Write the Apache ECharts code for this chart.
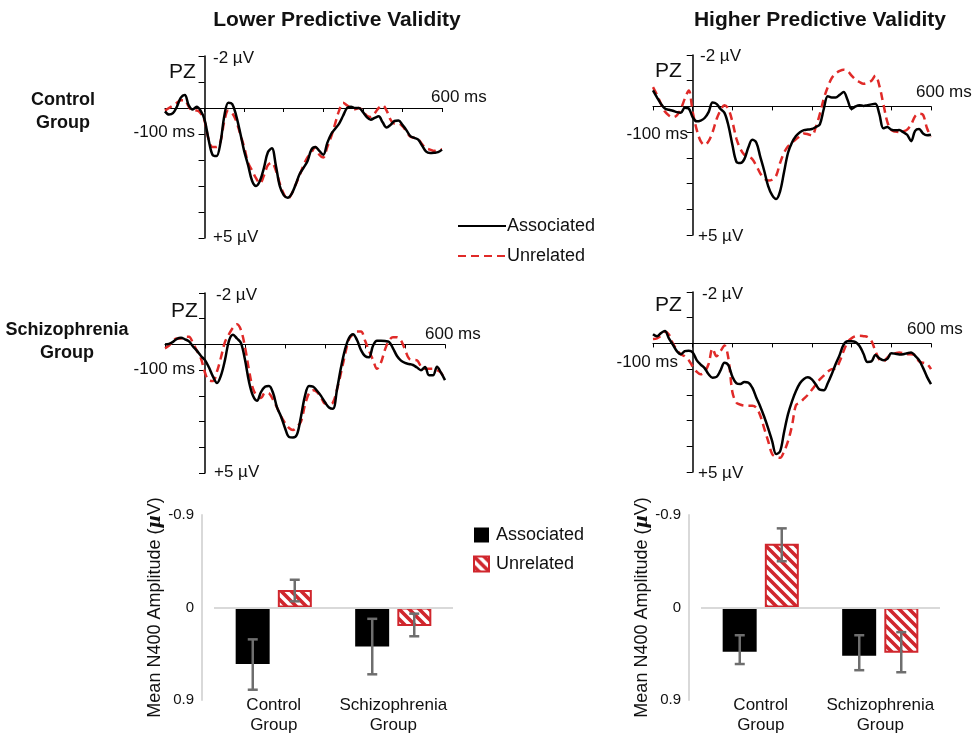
<!DOCTYPE html>
<html>
<head>
<meta charset="utf-8">
<script src="https://cdn.jsdelivr.net/npm/echarts@6/dist/echarts.min.js"></script>
<style>
  html, body { margin: 0; padding: 0; background: #fff; }
  #main { width: 972px; height: 735px; }
</style>
</head>
<body>
<div id="main"></div>
<script>
// time axis of the ERP plots (ms)
var times = [-100, -90, -80, -70, -60, -50, -40, -30, -20, -10,
  0, 10, 20, 30, 40, 50, 60, 70, 80, 90,
  100, 110, 120, 130, 140, 150, 160, 170, 180, 190,
  200, 210, 220, 230, 240, 250, 260, 270, 280, 290,
  300, 310, 320, 330, 340, 350, 360, 370, 380, 390,
  400, 410, 420, 430, 440, 450, 460, 470, 480, 490,
  500, 510, 520, 530, 540, 550, 560, 570, 580, 590,
  600];

// ERP amplitudes (uV, positive down)
var ctrlLowAssoc = [0.13, 0.25, 0.2, -0.05, -0.4, -0.5, -0.1, 0.06, -0.05, 0.1,
  0.45, 1.2, 1.8, 1.85, 1.35, 0.3, -0.2, -0.15, 0.3, 0.95,
  1.65, 2.2, 2.8, 3.0, 2.8, 2.3, 1.7, 1.55, 2.2, 3.0,
  3.35, 3.45, 3.3, 2.95, 2.55, 2.3, 2.05, 1.6, 1.5, 1.65,
  1.8, 1.35, 1.0, 0.8, 0.6, 0.3, 0.0, -0.05, 0.0, 0.0,
  0.15, 0.35, 0.45, 0.38, 0.32, 0.55, 0.75, 0.65, 0.5, 0.48,
  0.65, 0.85, 1.08, 1.15, 1.22, 1.45, 1.68, 1.73, 1.72, 1.7,
  1.6];
var ctrlLowUnrel = [0.1, 0.0, -0.1, -0.2, -0.3, -0.3, -0.05, 0.1, 0.1, 0.2,
  0.5, 1.2, 1.5, 1.5, 1.3, 0.5, 0.1, 0.2, 0.5, 1.0,
  1.5, 2.1, 2.4, 2.7, 2.9, 2.6, 2.2, 2.1, 2.4, 2.9,
  3.3, 3.5, 3.3, 2.95, 2.6, 2.2, 1.9, 1.7, 1.5, 1.8,
  1.9, 1.5, 1.1, 0.6, 0.1, -0.2, -0.1, 0.0, 0.05, 0.0,
  0.1, 0.3, 0.35, 0.2, 0.0, -0.1, 0.1, 0.45, 0.6, 0.6,
  0.7, 0.9, 1.1, 1.15, 1.2, 1.4, 1.55, 1.6, 1.65, 1.6,
  1.6];
var ctrlHighAssoc = [-0.62, -0.35, -0.1, 0.08, 0.13, 0.17, 0.22, 0.25, 0.05, 0.08,
  0.42, 0.58, 0.55, 0.45, 0.22, -0.15, -0.1, 0.1, 0.25, 0.75,
  1.5, 2.15, 2.2, 2.05, 1.6, 1.3, 1.4, 1.95, 2.5, 3.1,
  3.45, 3.6, 3.3, 2.55, 1.8, 1.4, 1.15, 1.0, 0.92, 0.9,
  0.88, 0.8, 0.7, 0.1, -0.4, -0.35, -0.35, -0.45, -0.56, -0.25,
  0.1, 0.0, -0.05, -0.02, -0.05, -0.08, -0.1, 0.3, 0.85, 0.8,
  0.9, 0.93, 0.92, 1.0, 1.1, 1.35, 0.95, 0.88, 1.05, 1.12,
  1.1];
var ctrlHighUnrel = [-0.75, -0.45, -0.1, 0.2, 0.35, 0.42, 0.35, 0.1, -0.3, -0.62,
  0.22, 0.9, 1.35, 1.5, 1.35, 1.0, 0.5, 0.15, -0.05, 0.1,
  0.6, 1.25, 1.65, 1.88, 1.95, 2.05, 2.3, 2.6, 2.8, 2.88,
  2.85, 2.7, 2.2, 1.8, 1.55, 1.4, 1.28, 1.15, 1.05, 1.08,
  1.13, 0.8, 0.3, -0.3, -0.75, -1.1, -1.28, -1.38, -1.43, -1.38,
  -1.2, -1.05, -0.95, -0.88, -0.92, -1.0, -1.2, -0.8, -0.1, 0.6,
  0.92, 0.98, 1.0, 0.97, 0.9, 0.7, 0.38, 0.28, 0.33, 0.85,
  1.19];
var szLowAssoc = [0.0, -0.02, -0.1, -0.22, -0.26, -0.2, -0.12, 0.08, 0.25, 0.45,
  0.61, 0.9, 1.25, 1.5, 1.2, 0.6, -0.15, -0.38, -0.23, -0.05,
  0.6, 1.45, 2.0, 2.19, 1.85, 1.65, 1.62, 1.88, 2.45, 2.8,
  3.25, 3.6, 3.62, 3.5, 2.8, 2.0, 1.62, 1.64, 1.8, 2.0,
  2.25, 2.45, 2.5, 1.75, 0.9, 0.2, -0.25, -0.4, -0.17, 0.22,
  0.45, 0.5, 0.05, -0.14, -0.14, -0.13, -0.1, 0.15, 0.45, 0.63,
  0.72, 0.76, 0.8, 0.9, 1.0, 0.88, 1.2, 1.2, 0.87, 1.1,
  1.39];
var szLowUnrel = [0.15, 0.05, -0.15, -0.23, -0.23, -0.3, -0.3, -0.05, 0.25, 0.55,
  1.1, 1.4, 1.42, 1.05, 0.5, -0.1, -0.4, -0.65, -0.78, -0.55,
  0.1, 1.0, 1.72, 2.0, 2.08, 1.88, 1.9, 2.15, 2.45, 2.8,
  3.05, 3.25, 3.33, 3.2, 3.0, 2.35, 1.9, 1.78, 1.85, 2.05,
  2.3, 2.3, 2.25, 1.75, 1.1, 0.4, -0.2, -0.4, -0.5, -0.5,
  -0.15, 0.25, 0.6, 0.95, 0.7, 0.2, -0.15, -0.28, -0.28, -0.15,
  0.2, 0.55, 0.6, 0.62, 0.85, 0.95, 0.95, 0.95, 1.0, 1.1,
  1.39];
var szHighAssoc = [-0.36, -0.28, -0.4, -0.48, -0.2, 0.05, 0.3, 0.42, 0.3, 0.28,
  0.35, 0.65, 0.82, 0.96, 1.2, 1.33, 1.3, 1.05, 0.75, 0.85,
  1.3, 1.55, 1.58, 1.5, 1.52, 1.72, 2.1, 2.45, 2.85, 3.3,
  3.8, 4.3, 4.2, 3.45, 2.75, 2.25, 1.85, 1.55, 1.38, 1.32,
  1.4, 1.6, 1.8, 1.82, 1.55, 1.2, 0.8, 0.45, 0.05, -0.08,
  -0.08, -0.05, 0.1, 0.4, 0.72, 0.7, 0.45, 0.58, 0.65, 0.6,
  0.38, 0.4, 0.43, 0.42, 0.38, 0.35, 0.48, 0.65, 0.95, 1.3,
  1.58];
var szHighUnrel = [-0.17, -0.2, -0.3, -0.45, -0.35, 0.0, 0.25, 0.42, 0.5, 0.65,
  0.9, 1.1, 1.2, 1.1, 0.8, 0.2, 0.5, 0.3, 0.08, 0.6,
  1.9, 2.3, 2.38, 2.42, 2.42, 2.42, 2.5, 2.8, 3.3, 3.8,
  4.3, 4.42, 4.45, 4.2, 3.8, 3.2, 2.4, 2.3, 2.15, 2.0,
  1.8, 1.6, 1.4, 1.25, 1.1, 1.0, 0.98, 0.7, 0.3, -0.05,
  -0.2, -0.28, -0.3, -0.28, -0.25, -0.1, 0.3, 0.62, 0.7, 0.55,
  0.42, 0.38, 0.35, 0.38, 0.42, 0.42, 0.45, 0.7, 0.75, 0.8,
  1.0];

// mean N400 amplitude bars
var groups = ['Control\nGroup', 'Schizophrenia\nGroup'];
var lowAssoc = [0.55, 0.38];
var lowUnrel = [-0.17, 0.18];
var highAssoc = [0.43, 0.47];
var highUnrel = [-0.62, 0.44];
// error bar ends [low, high]
var lowAssocErr = [[0.31, 0.80], [0.11, 0.65]];
var lowUnrelErr = [[-0.27, -0.06], [0.06, 0.28]];
var highAssocErr = [[0.27, 0.55], [0.27, 0.61]];
var highUnrelErr = [[-0.77, -0.45], [0.24, 0.63]];

var FONT = "'Liberation Sans', Arial, Helvetica, sans-serif";
var RED = '#e02a28';
var BAR_RED = '#d0262d';

function pairs(vals) {
  return times.map(function (t, i) { return [t, vals[i]]; });
}

function stripes() {
  var c = document.createElement('canvas');
  c.width = 10; c.height = 10;
  var g = c.getContext('2d');
  g.fillStyle = '#fff';
  g.fillRect(0, 0, 10, 10);
  g.strokeStyle = BAR_RED;
  g.lineWidth = 3.6;
  g.beginPath();
  [-10, 0, 10].forEach(function (k) {
    g.moveTo(-2, -2 + k);
    g.lineTo(12, 12 + k);
  });
  g.stroke();
  return c;
}
var stripePattern = { image: stripes(), repeat: 'repeat' };

var grids = [
  { left: 165, top: 56, width: 277, height: 182 },
  { left: 653, top: 55, width: 278, height: 180 },
  { left: 165, top: 293, width: 280, height: 180 },
  { left: 653, top: 292, width: 278, height: 180 },
  { left: 214, top: 515, width: 239, height: 190 },
  { left: 701, top: 515, width: 239, height: 190 }
];

var xAxes = [], yAxes = [], series = [];

var erp = [
  [ctrlLowAssoc, ctrlLowUnrel],
  [ctrlHighAssoc, ctrlHighUnrel],
  [szLowAssoc, szLowUnrel],
  [szHighAssoc, szHighUnrel]
];

erp.forEach(function (pair, i) {
  xAxes.push({
    gridIndex: i, type: 'value', min: -100, max: 600, interval: 100,
    axisLine: { onZero: true, lineStyle: { color: '#000', width: 1.2 } },
    axisTick: { show: true, length: 4, lineStyle: { color: '#000', width: 1 } },
    axisLabel: { show: false },
    splitLine: { show: false }
  });
  yAxes.push({
    gridIndex: i, type: 'value', min: -2, max: 5, interval: 1, inverse: true,
    axisLine: { show: true, onZero: true, lineStyle: { color: '#000', width: 1.5 } },
    axisTick: { show: true, length: 6, lineStyle: { color: '#000', width: 1 } },
    axisLabel: { show: false },
    splitLine: { show: false }
  });
  series.push({
    name: 'Unrelated', type: 'line', xAxisIndex: i, yAxisIndex: i,
    data: pairs(pair[1]), symbol: 'none', smooth: 0.35, z: 2,
    lineStyle: { color: RED, width: 2.5, type: [8, 5] },
    itemStyle: { color: RED }
  });
  series.push({
    name: 'Associated', type: 'line', xAxisIndex: i, yAxisIndex: i,
    data: pairs(pair[0]), symbol: 'none', smooth: 0.35, z: 3,
    lineStyle: { color: '#000', width: 2.5 },
    itemStyle: { color: '#000' }
  });
});

function errRender(offset) {
  return function (params, api) {
    var a = api.coord([api.value(0), api.value(1)]);
    var b = api.coord([api.value(0), api.value(2)]);
    var x = a[0] + offset;
    var st = { stroke: '#6e6e6e', lineWidth: 2.5 };
    return {
      type: 'group',
      children: [
        { type: 'line', shape: { x1: x, y1: a[1], x2: x, y2: b[1] }, style: st },
        { type: 'line', shape: { x1: x - 5, y1: a[1], x2: x + 5, y2: a[1] }, style: st },
        { type: 'line', shape: { x1: x - 5, y1: b[1], x2: x + 5, y2: b[1] }, style: st }
      ]
    };
  };
}

var bars = [
  [lowAssoc, lowUnrel, lowAssocErr, lowUnrelErr],
  [highAssoc, highUnrel, highAssocErr, highUnrelErr]
];

bars.forEach(function (b, k) {
  var gi = 4 + k;
  xAxes.push({
    gridIndex: gi, type: 'category', data: groups, position: 'bottom',
    axisLine: { show: false, onZero: false },
    axisTick: { show: false },
    axisLabel: { interval: 0, fontSize: 17, lineHeight: 20, color: '#111', fontFamily: FONT, margin: -5 }
  });
  yAxes.push({
    gridIndex: gi, type: 'value', min: -0.9, max: 0.9, interval: 0.9, inverse: true,
    offset: 12,
    axisLine: { show: true, lineStyle: { color: '#d9d9d9', width: 2 } },
    axisTick: { show: false },
    axisLabel: { fontSize: 15, color: '#111', fontFamily: FONT, margin: 8 },
    splitLine: { show: false },
    name: 'Mean N400 Amplitude ({mu|\u00b5}V)',
    nameLocation: 'middle', nameGap: 38,
    nameTextStyle: {
      fontSize: 18, color: '#111', fontFamily: FONT,
      rich: { mu: { fontSize: 18, fontWeight: 'bold', fontStyle: 'italic', color: '#111', fontFamily: 'DejaVu Serif, serif' } }
    }
  });
  series.push({
    name: 'Associated bars', type: 'bar', xAxisIndex: gi, yAxisIndex: gi,
    data: b[0], barWidth: 34, barGap: '24%',
    itemStyle: { color: '#000' },
    markLine: {
      silent: true, symbol: 'none', label: { show: false },
      lineStyle: { color: '#d9d9d9', width: 2, type: 'solid' },
      data: [{ yAxis: 0 }]
    }
  });
  series.push({
    name: 'Unrelated bars', type: 'bar', xAxisIndex: gi, yAxisIndex: gi,
    data: b[1], barWidth: 34, barGap: '24%',
    itemStyle: { color: stripePattern, borderColor: BAR_RED, borderWidth: 2 }
  });
  series.push({
    type: 'custom', xAxisIndex: gi, yAxisIndex: gi, z: 5,
    renderItem: errRender(-21), encode: { x: 0, y: [1, 2] },
    data: b[2].map(function (e, i) { return [i, e[0], e[1]]; })
  });
  series.push({
    type: 'custom', xAxisIndex: gi, yAxisIndex: gi, z: 5,
    renderItem: errRender(21), encode: { x: 0, y: [1, 2] },
    data: b[3].map(function (e, i) { return [i, e[0], e[1]]; })
  });
});

function label(text, x, y, size, opts) {
  opts = opts || {};
  return {
    type: 'text', silent: true,
    style: {
      text: text, x: x, y: y, fill: '#111',
      fontSize: size, fontFamily: FONT, fontWeight: opts.bold ? 'bold' : 'normal',
      align: opts.align || 'left', verticalAlign: 'middle', lineHeight: opts.lh || size
    }
  };
}

var texts = [
  label('Lower Predictive Validity', 337, 20, 21, { bold: true, align: 'center' }),
  label('Higher Predictive Validity', 820, 20, 21, { bold: true, align: 'center' }),
  label('Control\nGroup', 63, 112, 18, { bold: true, align: 'center', lh: 23 }),
  label('Schizophrenia\nGroup', 67, 342, 18, { bold: true, align: 'center', lh: 23 }),
  label('PZ', 169, 72, 21), label('PZ', 655, 71, 21),
  label('PZ', 171, 311, 21), label('PZ', 655, 305, 21),
  label('-2 \u00b5V', 213, 58, 17), label('+5 \u00b5V', 213, 237, 17),
  label('-2 \u00b5V', 700, 56, 17), label('+5 \u00b5V', 698, 236, 17),
  label('-2 \u00b5V', 216, 295, 17), label('+5 \u00b5V', 214, 472, 17),
  label('-2 \u00b5V', 702, 294, 17), label('+5 \u00b5V', 698, 473, 17),
  label('600 ms', 431, 97, 17), label('600 ms', 916, 92, 17),
  label('600 ms', 425, 334, 17), label('600 ms', 907, 329, 17),
  label('-100 ms', 195, 132, 17, { align: 'right' }),
  label('-100 ms', 688, 134, 17, { align: 'right' }),
  label('-100 ms', 195, 369, 17, { align: 'right' }),
  label('-100 ms', 678, 362, 17, { align: 'right' })
];

var myChart = echarts.init(document.getElementById('main'));
var option = {
  animation: false,
  backgroundColor: '#fff',
  grid: grids,
  xAxis: xAxes,
  yAxis: yAxes,
  legend: [{
    data: ['Associated', 'Unrelated'],
    left: 452, top: 212, orient: 'vertical',
    itemWidth: 48, itemHeight: 18, itemGap: 12,
    selectedMode: false,
    itemStyle: { color: 'transparent', borderColor: 'transparent', borderWidth: 0, opacity: 0 },
    textStyle: { fontSize: 18, color: '#111', fontFamily: FONT, padding: [0, 0, 0, -4] }
  }, {
    data: ['Associated bars', 'Unrelated bars'],
    left: 468, top: 521, orient: 'vertical', icon: 'rect',
    itemWidth: 15, itemHeight: 15, itemGap: 11,
    selectedMode: false,
    formatter: function (n) { return n.replace(' bars', ''); },
    textStyle: { fontSize: 18, color: '#111', fontFamily: FONT, padding: [0, 0, 0, 2] }
  }],
  graphic: texts,
  series: series
};
myChart.setOption(option);
</script>
</body>
</html>
